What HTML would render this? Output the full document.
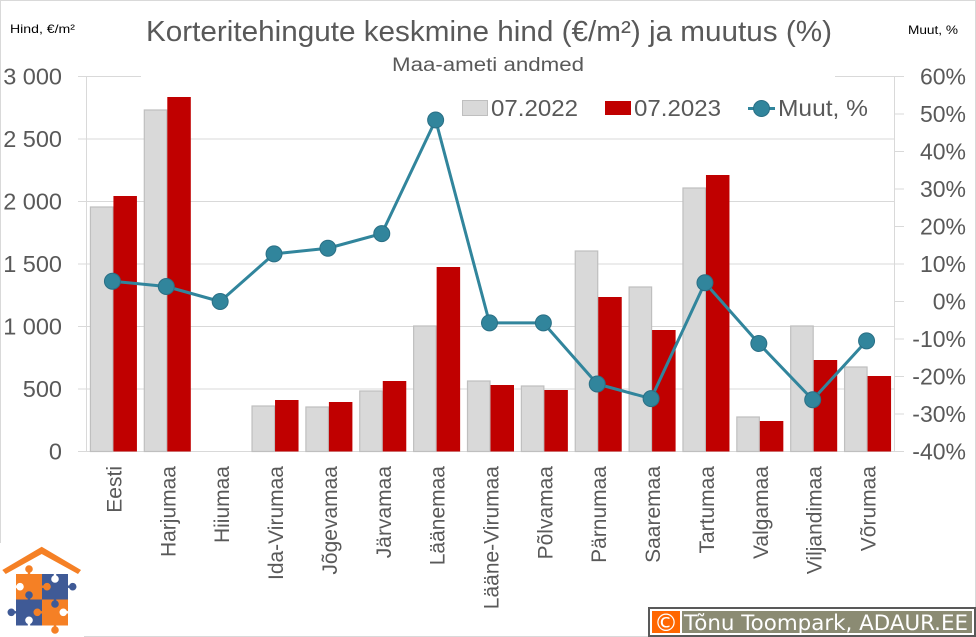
<!DOCTYPE html>
<html lang="et">
<head>
<meta charset="utf-8">
<title>Korteritehingute keskmine hind</title>
<style>
html,body{margin:0;padding:0;background:#fff;}
svg{display:block;font-family:"Liberation Sans",sans-serif;}
</style>
</head>
<body>
<svg id="chart" width="976" height="637" viewBox="0 0 976 637" xmlns="http://www.w3.org/2000/svg">
  <rect x="0" y="0" width="976" height="637" fill="#fff"/>
  <rect x="0.5" y="0.5" width="975" height="636" fill="none" stroke="#d9d9d9"/>
  <g id="grid"></g>
  <g id="bars"></g>
  <g id="axes"></g>
  <rect x="141" y="70" width="694" height="10" fill="#fff"/>
  <g id="line"></g>
  <g id="labels"></g>

  <text x="146" y="41" font-size="29" fill="#595959" textLength="686" lengthAdjust="spacingAndGlyphs">Korteritehingute keskmine hind (€/m²) ja muutus (%)</text>
  <text x="392" y="71" font-size="19" fill="#595959" textLength="192" lengthAdjust="spacingAndGlyphs">Maa-ameti andmed</text>
  <text x="10" y="33" font-size="12" fill="#000" textLength="65" lengthAdjust="spacingAndGlyphs">Hind, €/m²</text>
  <text x="908" y="34" font-size="12" fill="#000" textLength="50" lengthAdjust="spacingAndGlyphs">Muut, %</text>

  <g>
    <g>
      <rect x="462.5" y="100.5" width="25" height="15" fill="#d9d9d9" stroke="#bfbfbf"/>
      <text x="491" y="116" font-size="23" fill="#595959" textLength="87" lengthAdjust="spacingAndGlyphs">07.2022</text>
    </g>
    <g>
      <rect x="605" y="101" width="26" height="14" fill="#c00000"/>
      <text x="634" y="116" font-size="23" fill="#595959" textLength="87" lengthAdjust="spacingAndGlyphs">07.2023</text>
    </g>
    <g>
      <line x1="748" y1="108.5" x2="775" y2="108.5" stroke="#31859c" stroke-width="3"/>
      <circle cx="761.5" cy="108.5" r="8" fill="#31859c" stroke="#2a6f85"/>
      <text x="778" y="116" font-size="23" fill="#595959" textLength="90" lengthAdjust="spacingAndGlyphs">Muut, %</text>
    </g>
  </g>

  <g>
    <rect x="0" y="543" width="84" height="94" fill="#fff"/>
    <polygon points="2.3,570 41.7,546.7 81,570 78,574 41.7,554 5.7,574" fill="#f58025"/>
    <rect x="16" y="574" width="26" height="25.5" fill="#f58025"/>
    <rect x="42" y="574" width="26" height="25.5" fill="#3f5a96"/>
    <rect x="16" y="599.5" width="26" height="26" fill="#3f5a96"/>
    <rect x="42" y="599.5" width="26" height="26" fill="#f58025"/>
    <g fill="#f58025" stroke="#f58025" stroke-width="2.4">
      <line x1="29" y1="569" x2="29" y2="575"/>
      <circle cx="29" cy="569" r="2.6"/>
      <line x1="55" y1="630" x2="55" y2="625"/>
      <circle cx="55" cy="630" r="2.6"/>
      <line x1="47" y1="586.7" x2="41" y2="586.7"/>
      <circle cx="47" cy="586.7" r="2.6"/>
      <line x1="37.3" y1="612.3" x2="43" y2="612.3"/>
      <circle cx="37.3" cy="612.3" r="2.6"/>
    </g>
    <g fill="#3f5a96" stroke="#3f5a96" stroke-width="2.4">
      <line x1="72.7" y1="586.7" x2="67" y2="586.7"/>
      <circle cx="72.7" cy="586.7" r="2.6"/>
      <line x1="11.3" y1="612.3" x2="17" y2="612.3"/>
      <circle cx="11.3" cy="612.3" r="2.6"/>
      <line x1="29" y1="595" x2="29" y2="600"/>
      <circle cx="29" cy="595" r="2.6"/>
      <line x1="55" y1="604" x2="55" y2="599"/>
      <circle cx="55" cy="604" r="2.6"/>
    </g>
    <g fill="#fff" stroke="#fff" stroke-width="2.4">
      <line x1="55" y1="579" x2="55" y2="573"/>
      <circle cx="55" cy="579" r="2.6"/>
      <line x1="20" y1="586.7" x2="15" y2="586.7"/>
      <circle cx="20" cy="586.7" r="2.6"/>
      <line x1="63.3" y1="612.3" x2="69" y2="612.3"/>
      <circle cx="63.3" cy="612.3" r="2.6"/>
      <line x1="29" y1="620.3" x2="29" y2="627"/>
      <circle cx="29" cy="620.3" r="2.6"/>
    </g>
  </g>

  <g>
    <rect x="648" y="607" width="328" height="30" fill="#fff"/>
    <rect x="649" y="608" width="326" height="28" fill="none" stroke="#595959" stroke-width="2"/>
    <rect x="652" y="611" width="28" height="22" fill="#ff6600"/>
    <rect x="682" y="611" width="290" height="22" fill="#8b8b73"/>
    <text x="666" y="631" font-size="24" fill="#fff" text-anchor="middle" style="font-family:'DejaVu Sans',sans-serif">©</text>
    <text x="684" y="630" font-size="21" fill="#fff" textLength="284" lengthAdjust="spacingAndGlyphs" style="font-family:'DejaVu Sans',sans-serif">Tõnu Toompark, ADAUR.EE</text>
  </g>
</svg>
<script>
var categories = ["Eesti","Harjumaa","Hiiumaa","Ida-Virumaa","Jõgevamaa","Järvamaa","Läänemaa","Lääne-Virumaa","Põlvamaa","Pärnumaa","Saaremaa","Tartumaa","Valgamaa","Viljandimaa","Võrumaa"];
var price2022 = [1956,2732,0,364,356,484,1004,564,524,1604,1316,2108,276,1004,676];
var price2023 = [2044,2836,0,412,396,564,1476,532,492,1236,972,2212,244,732,604];
var changePct = [5.4,4,0,12.7,14.2,18.1,48.4,-5.7,-5.7,-22,-25.9,5,-11.2,-26.2,-10.5];
var priceTicks = [0,500,1000,1500,2000,2500,3000];
var priceTickLabels = ["0","500","1 000","1 500","2 000","2 500","3 000"];
var pctTicks = [-40,-30,-20,-10,0,10,20,30,40,50,60];

var NS = "http://www.w3.org/2000/svg";
var plotLeft = 86.5, plotRight = 894.5, plotTop = 76.5, plotBottom = 451.5;
var priceMax = 3000, pctMin = -40, pctMax = 60;
var axisColor = "#d9d9d9", textColor = "#595959";

function yPrice(v){ return plotBottom - v / priceMax * (plotBottom - plotTop); }
function yPct(v){ return plotBottom - (v - pctMin) / (pctMax - pctMin) * (plotBottom - plotTop); }
function xCenter(i){ return plotLeft + (i + 0.5) * (plotRight - plotLeft) / categories.length; }
function slug(s){ return s.toLowerCase().replace(/[^a-z0-9]+/g, "-"); }

function make(tag, attrs, parent){
  var el = document.createElementNS(NS, tag);
  for (var k in attrs) el.setAttribute(k, attrs[k]);
  parent.appendChild(el);
  return el;
}

var grid = document.getElementById("grid");
var bars = document.getElementById("bars");
var axes = document.getElementById("axes");
var lineG = document.getElementById("line");
var labels = document.getElementById("labels");

priceTicks.forEach(function(t, i){
  var y = yPrice(t);
  var gl = make("line", {x1: 78, y1: y, x2: plotRight, y2: y, stroke: axisColor, "stroke-width": 1}, grid);
  
  
  var tx = make("text", {x: 62, y: y + 8, "font-size": 23.5, fill: textColor, "text-anchor": "end"}, labels);
  
  
  tx.textContent = priceTickLabels[i];
});

pctTicks.forEach(function(t){
  var y = yPct(t);
  var tk = make("line", {x1: plotRight, y1: y, x2: 904, y2: y, stroke: axisColor, "stroke-width": 1}, axes);
  
  
  var tx = make("text", {x: 966, y: y + 8, "font-size": 23, fill: textColor, "text-anchor": "end"}, labels);
  
  
  tx.textContent = t + "%";
});

var leftAxis = make("line", {x1: plotLeft, y1: plotTop, x2: plotLeft, y2: plotBottom, stroke: axisColor, "stroke-width": 1}, axes);


var rightAxis = make("line", {x1: plotRight, y1: plotTop, x2: plotRight, y2: plotBottom, stroke: axisColor, "stroke-width": 1}, axes);



var barW = 23.5;
var markerShift = -1;
categories.forEach(function(c, i){
  var cx = xCenter(i);
  if (price2022[i] > 0) {
    var b1 = make("rect", {x: cx - barW + 0.5, y: yPrice(price2022[i]), width: barW - 1, height: plotBottom - yPrice(price2022[i]), fill: "#d9d9d9", stroke: "#bfbfbf", "stroke-width": 1.2}, bars);
    
    
  }
  if (price2023[i] > 0) {
    var b2 = make("rect", {x: cx, y: yPrice(price2023[i]), width: barW, height: plotBottom - yPrice(price2023[i]), fill: "#c00000"}, bars);
    
    
  }
  var lx = cx + 8, ly = 466;
  var tx = make("text", {x: lx, y: ly, "font-size": 21, fill: textColor, "text-anchor": "end", transform: "rotate(-90 " + lx + " " + ly + ")"}, labels);
  
  
  tx.textContent = c;
});

var pts = changePct.map(function(v, i){ return (xCenter(i) + markerShift) + "," + yPct(v); }).join(" ");
var poly = make("polyline", {points: pts, fill: "none", stroke: "#31859c", "stroke-width": 3, "stroke-linejoin": "round"}, lineG);


changePct.forEach(function(v, i){
  var m = make("circle", {cx: xCenter(i) + markerShift, cy: yPct(v), r: 8, fill: "#31859c", stroke: "#2a6f85", "stroke-width": 1}, lineG);
  
  
});
</script>
</body>
</html>
